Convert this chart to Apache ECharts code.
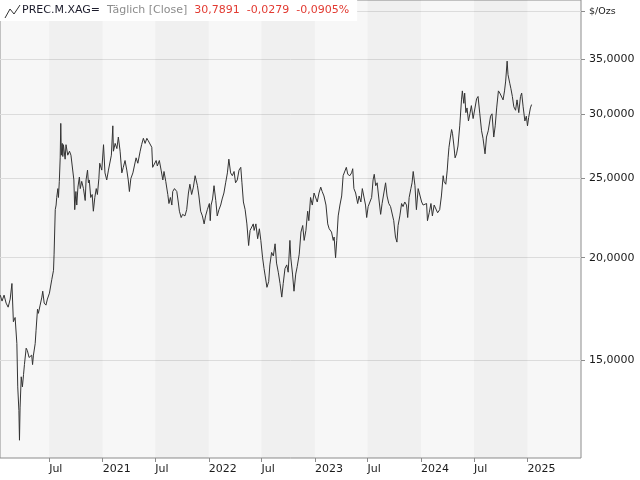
<!DOCTYPE html>
<html><head><meta charset="utf-8">
<script src="https://cdn.jsdelivr.net/npm/echarts@6/dist/echarts.min.js"></script>
<style>html,body{margin:0;padding:0;background:#fff}#c{width:640px;height:480px}</style>
</head><body><div id="c"></div>
<script>
// ---- data: [date, close in $/Ozs] ----
const s2020 = [['2020-01-15',18.0],['2020-01-21',17.7],['2020-01-28',18.0],['2020-02-04',17.6],['2020-02-11',17.4],['2020-02-18',17.8],['2020-02-24',18.6],['2020-02-29',16.7],['2020-03-06',16.9],['2020-03-12',15.7],['2020-03-15',13.9],['2020-03-19',13.0],['2020-03-21',11.96],['2020-03-23',13.1],['2020-03-27',14.3],['2020-03-31',13.9],['2020-04-04',14.4],['2020-04-07',14.8],['2020-04-13',15.5],['2020-04-17',15.4],['2020-04-23',15.1],['2020-05-02',15.2],['2020-05-05',14.8],['2020-05-08',15.2],['2020-05-14',15.7],['2020-05-17',16.3],['2020-05-22',17.3],['2020-05-25',17.1],['2020-05-31',17.5],['2020-06-06',17.9],['2020-06-09',18.2],['2020-06-14',17.6],['2020-06-20',17.5],['2020-06-25',17.8],['2020-07-02',18.1],['2020-07-07',18.0],['2020-07-10',18.8],['2020-07-16',19.3],['2020-07-18',20.2],['2020-07-22',22.9],['2020-07-25',23.2],['2020-07-27',23.7],['2020-07-31',24.3],['2020-08-02',23.7],['2020-08-05',24.8],['2020-08-08',26.5],['2020-08-10',29.2],['2020-08-12',26.7],['2020-08-15',27.6],['2020-08-17',26.6],['2020-08-19',27.5],['2020-08-25',26.4],['2020-08-28',27.5],['2020-09-03',26.7],['2020-09-09',27.0],['2020-09-14',26.7],['2020-09-20',26.7],['2020-09-24',24.9],['2020-09-27',22.9],['2020-10-01',24.1],['2020-10-04',23.2],['2020-10-08',24.4],['2020-10-13',25.1],['2020-10-16',24.3],['2020-10-21',24.8],['2020-10-27',24.3],['2020-11-02',23.5],['2020-11-05',24.9],['2020-11-10',25.6],['2020-11-13',24.7],['2020-11-16',24.9],['2020-11-21',23.7],['2020-11-26',23.9],['2020-11-30',22.8],['2020-12-05',23.7],['2020-12-10',24.3],['2020-12-14',23.9],['2020-12-19',25.0],['2020-12-22',26.1],['2020-12-29',25.6]];
const s2021 = [['2021-01-04',27.5],['2021-01-09',25.4],['2021-01-15',24.9],['2021-01-21',25.6],['2021-01-27',25.5],['2021-01-31',26.7],['2021-02-05',29.0],['2021-02-07',27.0],['2021-02-13',27.6],['2021-02-19',27.2],['2021-02-24',28.1],['2021-03-02',27.0],['2021-03-08',25.4],['2021-03-13',25.8],['2021-03-19',26.3],['2021-03-25',25.6],['2021-03-30',24.9],['2021-04-03',24.1],['2021-04-08',25.0],['2021-04-15',25.4],['2021-04-20',25.9],['2021-04-26',26.5],['2021-05-02',26.1],['2021-05-10',27.0],['2021-05-15',27.5],['2021-05-21',28.0],['2021-05-27',27.6],['2021-06-02',28.0],['2021-06-07',27.8],['2021-06-13',27.9],['2021-06-19',27.3],['2021-06-22',25.8],['2021-06-28',25.9],['2021-07-04',26.3],['2021-07-08',25.9],['2021-07-15',26.3],['2021-07-21',25.6],['2021-07-27',24.9],['2021-07-31',25.5],['2021-08-06',24.8],['2021-08-13',23.9],['2021-08-17',23.3],['2021-08-22',23.7],['2021-08-27',23.2],['2021-08-30',24.1],['2021-09-05',24.3],['2021-09-13',24.1],['2021-09-18',23.4],['2021-09-22',22.8],['2021-09-28',22.4],['2021-10-03',22.6],['2021-10-11',22.5],['2021-10-17',22.9],['2021-10-23',24.0],['2021-10-28',24.6],['2021-11-03',23.9],['2021-11-09',24.4],['2021-11-15',25.2],['2021-11-18',25.3],['2021-11-23',24.5],['2021-11-28',23.8],['2021-12-04',22.8],['2021-12-10',22.5],['2021-12-16',22.0],['2021-12-21',22.5],['2021-12-27',22.9]];
const s2022 = [['2022-01-03',23.3],['2022-01-06',22.2],['2022-01-09',23.2],['2022-01-14',23.6],['2022-01-19',24.5],['2022-01-25',23.5],['2022-01-30',22.5],['2022-02-05',22.9],['2022-02-11',23.2],['2022-02-16',23.6],['2022-02-22',24.0],['2022-02-28',24.7],['2022-03-06',25.4],['2022-03-11',26.4],['2022-03-17',25.4],['2022-03-23',25.2],['2022-03-29',25.5],['2022-04-03',24.7],['2022-04-09',24.9],['2022-04-15',25.6],['2022-04-21',25.8],['2022-04-25',24.7],['2022-04-30',23.4],['2022-05-06',22.9],['2022-05-12',22.0],['2022-05-18',20.7],['2022-05-23',21.6],['2022-05-28',21.7],['2022-06-03',22.0],['2022-06-06',21.6],['2022-06-12',22.0],['2022-06-18',21.1],['2022-06-24',21.7],['2022-06-29',21.0],['2022-07-05',20.0],['2022-07-10',19.4],['2022-07-14',19.0],['2022-07-20',18.4],['2022-07-26',18.7],['2022-07-30',19.6],['2022-08-05',20.3],['2022-08-11',20.1],['2022-08-17',20.8],['2022-08-22',19.7],['2022-08-28',19.2],['2022-09-03',18.6],['2022-09-09',17.9],['2022-09-14',18.6],['2022-09-20',19.4],['2022-09-26',19.6],['2022-10-01',19.2],['2022-10-07',21.0],['2022-10-10',20.0],['2022-10-16',19.1],['2022-10-21',18.2],['2022-10-27',19.1],['2022-11-01',19.5],['2022-11-08',20.2],['2022-11-14',21.5],['2022-11-20',21.9],['2022-11-25',21.0],['2022-12-01',21.6],['2022-12-07',22.8],['2022-12-11',22.2],['2022-12-17',23.7],['2022-12-23',23.2],['2022-12-29',24.0]];
const s2023 = [['2023-01-03',24.1],['2023-01-09',23.4],['2023-01-15',24.0],['2023-01-21',24.4],['2023-01-26',24.1],['2023-02-01',23.8],['2023-02-08',23.2],['2023-02-14',22.0],['2023-02-19',21.7],['2023-02-27',21.5],['2023-03-05',21.0],['2023-03-08',21.2],['2023-03-13',20.0],['2023-03-17',21.0],['2023-03-22',22.5],['2023-03-28',23.2],['2023-04-03',23.8],['2023-04-08',25.2],['2023-04-14',25.3],['2023-04-19',25.8],['2023-04-24',25.3],['2023-05-01',25.2],['2023-05-07',25.4],['2023-05-11',25.7],['2023-05-15',24.3],['2023-05-21',24.0],['2023-05-28',23.3],['2023-06-02',23.8],['2023-06-08',23.4],['2023-06-13',24.3],['2023-06-18',24.3],['2023-06-24',23.2],['2023-06-28',22.4],['2023-07-03',23.1],['2023-07-09',23.2],['2023-07-15',23.7],['2023-07-20',24.9],['2023-07-24',25.3],['2023-07-29',24.5],['2023-08-03',24.7],['2023-08-09',23.6],['2023-08-15',22.6],['2023-08-20',23.3],['2023-08-26',24.0],['2023-09-01',24.7],['2023-09-06',23.8],['2023-09-12',23.3],['2023-09-18',23.1],['2023-09-24',23.2],['2023-09-29',22.2],['2023-10-05',21.2],['2023-10-10',20.9],['2023-10-14',21.9],['2023-10-20',22.5],['2023-10-26',23.3],['2023-10-31',23.1],['2023-11-06',23.4],['2023-11-12',23.2],['2023-11-16',22.4],['2023-11-21',23.7],['2023-11-27',24.3],['2023-12-01',24.7],['2023-12-05',25.5],['2023-12-11',24.5],['2023-12-16',22.9],['2023-12-22',24.3],['2023-12-28',24.4]];
const s2024 = [['2024-01-03',23.4],['2024-01-08',23.2],['2024-01-14',23.1],['2024-01-20',23.3],['2024-01-23',22.2],['2024-01-29',22.7],['2024-02-04',23.3],['2024-02-09',22.5],['2024-02-15',23.2],['2024-02-21',23.1],['2024-02-27',22.7],['2024-03-05',22.9],['2024-03-11',23.8],['2024-03-17',25.2],['2024-03-20',24.8],['2024-03-26',24.6],['2024-03-31',25.6],['2024-04-03',26.5],['2024-04-06',27.3],['2024-04-11',28.1],['2024-04-15',28.7],['2024-04-18',28.4],['2024-04-23',27.4],['2024-04-27',26.5],['2024-05-02',26.8],['2024-05-07',27.4],['2024-05-13',29.0],['2024-05-19',31.2],['2024-05-22',32.0],['2024-05-27',30.9],['2024-05-30',31.8],['2024-06-03',30.1],['2024-06-07',30.5],['2024-06-12',29.4],['2024-06-17',30.0],['2024-06-22',30.7],['2024-06-28',29.6],['2024-07-04',29.6],['2024-07-10',31.3],['2024-07-15',31.5],['2024-07-21',30.0],['2024-07-27',28.6],['2024-08-01',28.0],['2024-08-08',26.8],['2024-08-13',28.1],['2024-08-19',28.6],['2024-08-27',29.8],['2024-09-01',30.0],['2024-09-07',28.1],['2024-09-12',29.0],['2024-09-17',30.5],['2024-09-23',32.0],['2024-09-28',31.8],['2024-10-03',31.7],['2024-10-09',31.2],['2024-10-14',32.0],['2024-10-18',32.9],['2024-10-23',34.8],['2024-10-26',33.5],['2024-11-01',32.7],['2024-11-05',32.2],['2024-11-10',31.5],['2024-11-15',30.6],['2024-11-21',30.3],['2024-11-26',31.2],['2024-12-02',30.1],['2024-12-08',31.5],['2024-12-12',31.8],['2024-12-17',30.6],['2024-12-23',29.4],['2024-12-28',29.8]];
const s2025 = [['2025-01-01',29.0],['2025-01-05',29.7],['2025-01-11',30.5],['2025-01-15',30.79]];

// ---- axis ticks / labels ----
const xTickDates  = ['2020-07-01','2021-01-01','2021-07-01','2022-01-01','2022-07-01','2023-01-01','2023-07-01','2024-01-01','2024-07-01','2025-01-01'];
const xTickLabels = ['Jul','2021','Jul','2022','Jul','2023','Jul','2024','Jul','2025'];
const yTicks      = [15, 20, 25, 30, 35, 40];
const yTickLabels = ['15,0000','20,0000','25,0000','30,0000','35,0000','$/Ozs'];
const bandStarts  = ['2020-07-01','2021-07-01','2022-07-01','2023-07-01','2024-07-01'];
const bandEnds    = ['2021-01-01','2022-01-01','2023-01-01','2024-01-01','2025-01-01'];
const header      = ['PREC.M.XAG=', 'Täglich [Close]', '30,7891', '-0,0279', '-0,0905%'];
const xMin = '2020-01-14', xMax = '2025-07-04';
const yMin = 11.376, yMax = 41.34;

const ts = s => { const p = s.split('-').map(Number); return Date.UTC(p[0], p[1]-1, p[2]); };
const series = [].concat(s2020, s2021, s2022, s2023, s2024, s2025).map(d => [ts(d[0]), d[1]]);
const xTickTs = xTickDates.map(ts);

const chart = echarts.init(document.getElementById('c'), null, {renderer: 'canvas'});
const FONT = 'DejaVu Sans';
chart.setOption({
  animation: false,
  textStyle: {fontFamily: FONT},
  grid: {left: 0, right: 59, top: -1, bottom: 22, show: true, backgroundColor: '#f7f7f7', borderColor: '#8c8c8c', borderWidth: 1},
  title: {
    left: 0, top: 0, padding: [5, 8, 5, 22], backgroundColor: '#ffffff',
    text: '{a|' + header[0] + '}  {b|' + header[1] + '}  {c|' + header[2] + '}  {c|' + header[3] + '}  {c|' + header[4] + '}',
    textStyle: {fontFamily: FONT, fontSize: 11, fontWeight: 'normal',
      rich: {a: {color: '#1c1c2c', fontSize: 11, fontFamily: FONT}, b: {color: '#8c8c8c', fontSize: 11, fontFamily: FONT}, c: {color: '#e23b32', fontSize: 11, fontFamily: FONT}}}
  },
  graphic: [{type: 'polyline', z: 100, shape: {points: [[5, 18], [10, 9], [14, 14], [20, 5]]}, style: {stroke: '#333', lineWidth: 1, fill: null}}],
  xAxis: {
    type: 'value', min: ts(xMin), max: ts(xMax),
    axisLine: {show: false},
    axisTick: {show: true, customValues: xTickTs, length: 4, lineStyle: {color: '#8c8c8c'}},
    axisLabel: {customValues: xTickTs, align: 'left', margin: 6, color: '#1a1a1a', fontSize: 11, fontFamily: FONT,
      formatter: v => { const i = xTickTs.indexOf(v); return i >= 0 ? xTickLabels[i] : ''; }},
    splitLine: {show: false}
  },
  yAxis: {
    type: 'log', logBase: 10, position: 'right', min: yMin, max: yMax,
    axisLine: {show: false},
    axisTick: {show: true, customValues: yTicks, length: 4, lineStyle: {color: '#8c8c8c'}},
    axisLabel: {customValues: yTicks, margin: 8, color: '#1a1a1a', fontSize: 11, fontFamily: FONT,
      formatter: v => { const i = yTicks.indexOf(Math.round(v)); return i === 5 ? '{u|' + yTickLabels[i] + '}' : (i >= 0 ? yTickLabels[i] : ''); },
      rich: {u: {fontSize: 9.5, color: '#1a1a1a', fontFamily: FONT}}},
    splitLine: {show: true, lineStyle: {color: '#dcdcdc', width: 1}}
  },
  series: [{
    type: 'line', data: series, showSymbol: false, symbol: 'none',
    lineStyle: {color: '#333333', width: 1}, z: 3,
    markArea: {silent: true, itemStyle: {color: 'rgba(0,0,0,0.028)'},
      data: bandStarts.map((s, i) => [{xAxis: ts(s)}, {xAxis: ts(bandEnds[i])}])}
  }]
});
</script></body></html>
